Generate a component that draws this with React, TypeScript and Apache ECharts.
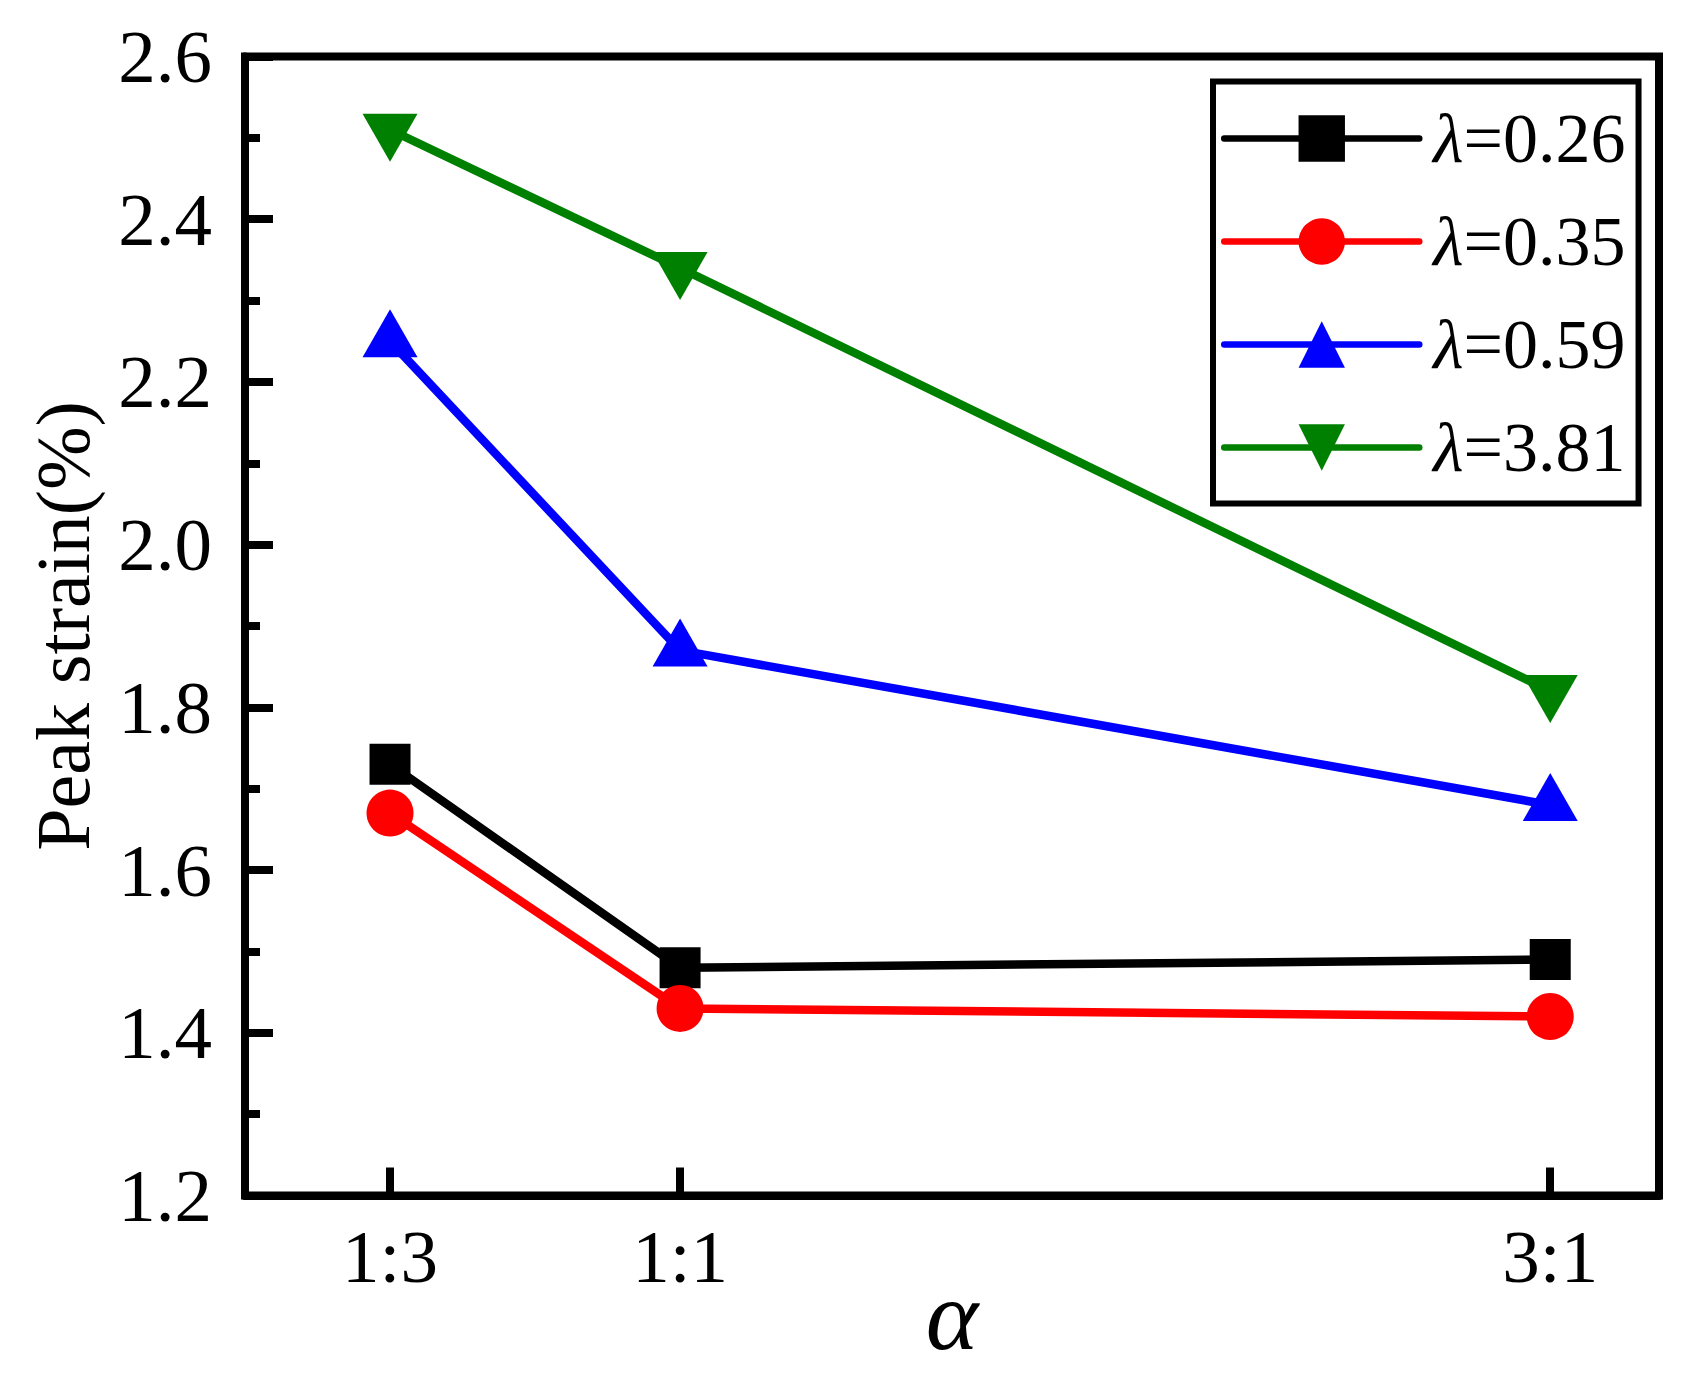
import React, { useEffect, useRef } from "react";
import * as echarts from "echarts";

const alphaValues = [1 / 3, 1, 3];
const alphaLabels = ["1:3", "1:1", "3:1"];
const seriesNames = ["λ=0.26", "λ=0.35", "λ=0.59", "λ=3.81"];
const strain026 = [1.73, 1.48, 1.49];
const strain035 = [1.67, 1.43, 1.42];
const strain059 = [2.25, 1.87, 1.68];
const strain381 = [2.51, 2.34, 1.82];
const yTicks = [1.2, 1.4, 1.6, 1.8, 2.0, 2.2, 2.4, 2.6];

const FONT = "Liberation Serif";

function pairs(vals: number[]) {
  return alphaValues.map((a, i) => [a, vals[i]]);
}

export default function App() {
  const ref = useRef<HTMLDivElement>(null);
  useEffect(() => {
    if (!ref.current) return;
    const chart = echarts.init(ref.current, undefined, { renderer: "svg" });
    const lineW = 8.5;
    const mk = (
      name: string,
      vals: number[],
      color: string,
      symbol: string,
      size: number | number[],
      offset: number[]
    ) => ({
      name,
      type: "line",
      data: pairs(vals),
      symbol,
      symbolSize: size,
      symbolOffset: offset,
      showSymbol: true,
      lineStyle: { color, width: lineW },
      itemStyle: { color, borderWidth: 0 },
      emphasis: { disabled: true },
      z: 3,
    });
    chart.setOption({
      animation: false,
      backgroundColor: "#fff",
      grid: {
        left: 245,
        right: 30,
        top: 56.5,
        bottom: 177.5,
        outerBoundsMode: "none",
        containLabel: false,
        show: true,
        borderColor: "#000",
        borderWidth: 8,
        backgroundColor: "transparent",
      },
      legend: {
        orient: "vertical",
        left: 1213,
        top: 81.5,
        padding: [22, 13, 21, 8],
        itemWidth: 195,
        itemHeight: 58,
        itemGap: 33,
        borderColor: "#000",
        borderWidth: 6,
        backgroundColor: "#fff",
        lineStyle: { width: 6.5, cap: "round" },
        data: seriesNames,
        formatter: (n: string) => "{i|λ}" + n.slice(1),
        textStyle: {
          fontFamily: FONT,
          fontSize: 70,
          color: "#000",
          padding: [0, 0, 0, 9],
          rich: {
            i: { fontFamily: FONT, fontSize: 70, fontStyle: "italic", color: "#000" },
          },
        },
      },
      xAxis: {
        type: "value",
        min: 0,
        max: 3.25,
        name: "α",
        nameLocation: "middle",
        nameGap: 70,
        nameMoveOverlap: false,
        nameTextStyle: { fontFamily: FONT, fontSize: 100, fontStyle: "italic", color: "#000" },
        axisLine: { show: true, onZero: false, lineStyle: { color: "#000", width: 8 } },
        axisTick: {
          show: true,
          inside: true,
          length: 28,
          customValues: alphaValues,
          lineStyle: { color: "#000", width: 8 },
        },
        axisLabel: {
          show: true,
          customValues: alphaValues,
          margin: 23,
          fontFamily: FONT,
          fontSize: 75,
          color: "#000",
          formatter: (v: number) => {
            let best = 0;
            alphaValues.forEach((a, i) => {
              if (Math.abs(a - v) < Math.abs(alphaValues[best] - v)) best = i;
            });
            return alphaLabels[best];
          },
        },
        splitLine: { show: false },
      },
      yAxis: {
        type: "value",
        min: yTicks[0],
        max: yTicks[yTicks.length - 1],
        interval: 0.2,
        name: "Peak strain(%)",
        nameLocation: "middle",
        nameRotate: 90,
        nameGap: 144,
        nameMoveOverlap: false,
        nameTextStyle: { fontFamily: FONT, fontSize: 76, color: "#000" },
        axisLine: { show: true, onZero: false, lineStyle: { color: "#000", width: 8 } },
        axisTick: { show: true, inside: true, length: 28, lineStyle: { color: "#000", width: 8 } },
        minorTick: { show: true, splitNumber: 2, length: 15, lineStyle: { color: "#000", width: 8 } },
        axisLabel: {
          margin: 33,
          fontFamily: FONT,
          fontSize: 75,
          color: "#000",
          formatter: (v: number) => v.toFixed(1),
        },
        splitLine: { show: false },
        minorSplitLine: { show: false },
      },
      series: [
        mk(seriesNames[0], strain026, "#000000", "rect", 41, [0, 0]),
        mk(seriesNames[1], strain035, "#ff0000", "circle", 47, [0, 0]),
        mk(seriesNames[2], strain059, "#0000ff", "triangle", [55, 48], [0, -8]),
        mk(seriesNames[3], strain381, "#008000", "path://M0 0L10 0L5 10Z", [55, 48], [0, 8]),
      ],
    });
    return () => chart.dispose();
  }, []);
  return (
    <div
      ref={ref}
      style={{ position: "fixed", left: 0, top: 0, width: 1689, height: 1373, background: "#fff" }}
    />
  );
}
